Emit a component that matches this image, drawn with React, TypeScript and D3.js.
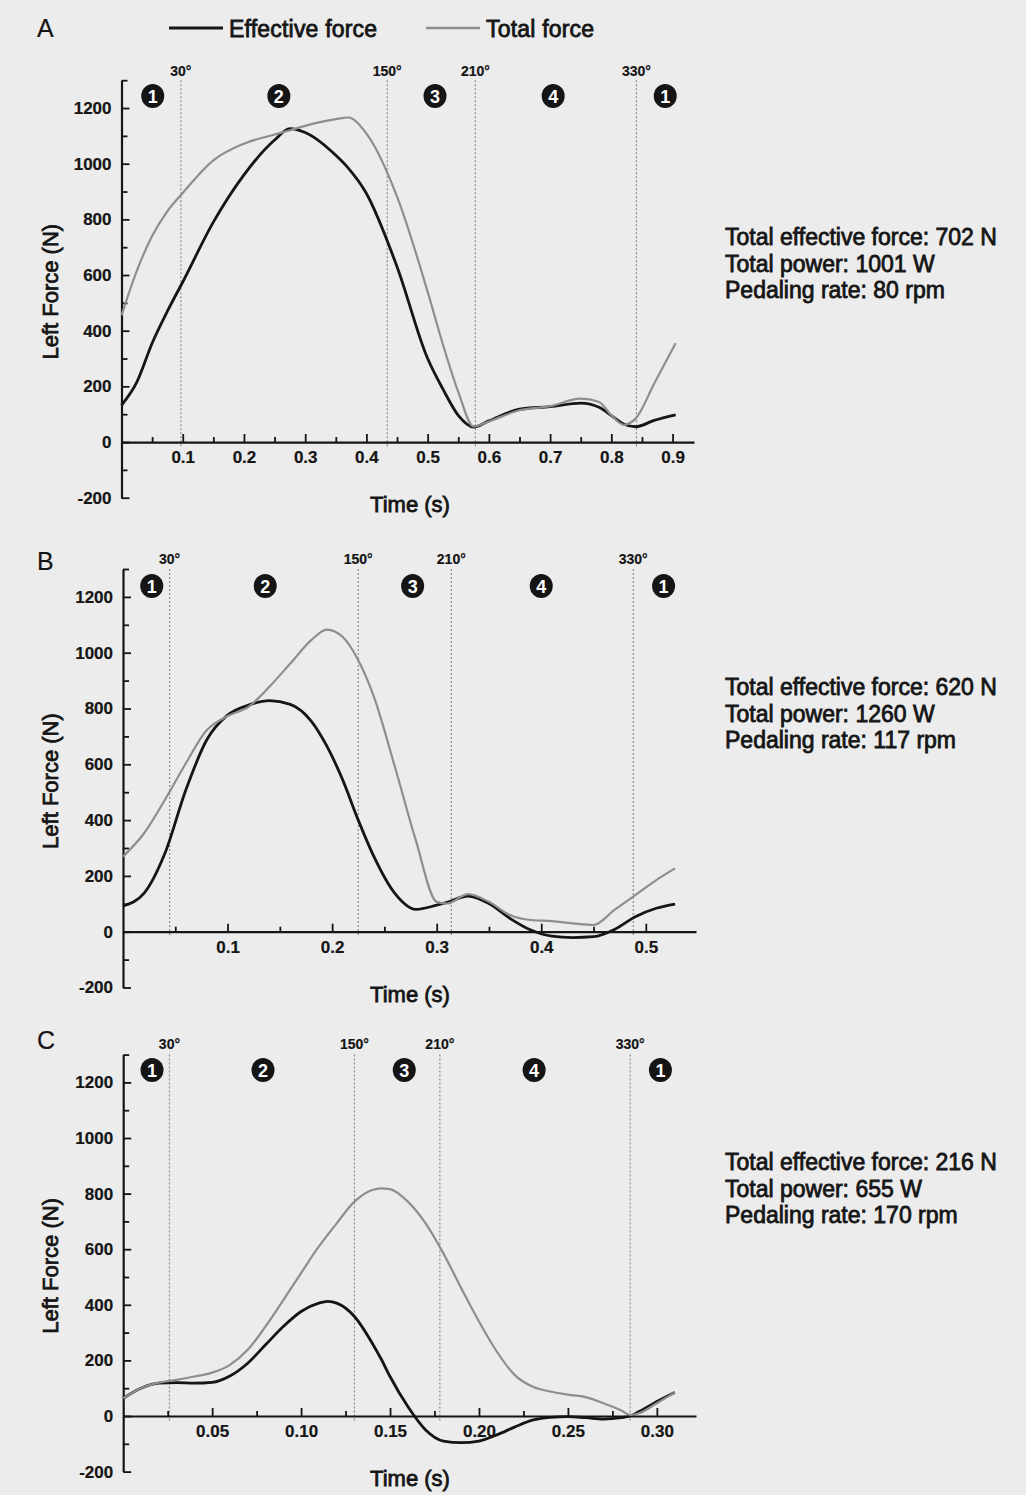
import * as d3 from "d3";
import { useEffect, useRef } from "react";

// ---- panel A (80 rpm) ----
const timeA = [0, 0.025, 0.05, 0.075, 0.1, 0.15, 0.2, 0.25, 0.275, 0.3, 0.35, 0.37, 0.4, 0.45, 0.5, 0.525, 0.55, 0.575, 0.6, 0.65, 0.7, 0.75, 0.78, 0.8, 0.82, 0.84, 0.87, 0.905];
const effectiveA = [132, 215, 355, 470, 575, 790, 960, 1085, 1126, 1112, 1030, 985, 893, 630, 300, 190, 96, 54, 76, 118, 127, 140, 125, 95, 65, 55, 78, 98];
const totalA = [455, 615, 740, 830, 895, 1012, 1072, 1105, 1120, 1136, 1160, 1166, 1108, 882, 540, 350, 180, 56, 74, 114, 129, 156, 144, 96, 62, 85, 210, 355];
const sectorTimesA = [0.097, 0.434, 0.578, 0.841];
const sectorNumberTimesA = [0.051, 0.257, 0.512, 0.705, 0.888];
const xMajorA = [0.1, 0.2, 0.3, 0.4, 0.5, 0.6, 0.7, 0.8, 0.9];
const xMinorA = [0.05, 0.15, 0.25, 0.35, 0.45, 0.55, 0.65, 0.75, 0.85];
const summaryA = ["Total effective force: 702 N", "Total power: 1001 W", "Pedaling rate: 80 rpm"];

// ---- panel B (117 rpm) ----
const timeB = [0, 0.02, 0.04, 0.06, 0.08, 0.1, 0.12, 0.14, 0.16, 0.18, 0.195, 0.21, 0.225, 0.24, 0.26, 0.28, 0.3, 0.31, 0.33, 0.35, 0.37, 0.39, 0.41, 0.43, 0.45, 0.47, 0.49, 0.51, 0.528];
const effectiveB = [92, 137, 280, 507, 687, 776, 812, 828, 815, 755, 665, 545, 400, 269, 137, 80, 95, 105, 128, 101, 48, 6, -16, -21, -18, 8, 54, 84, 99];
const totalB = [269, 352, 472, 603, 722, 773, 806, 878, 961, 1045, 1083, 1057, 973, 842, 591, 328, 107, 101, 135, 107, 60, 42, 38, 30, 24, 78, 131, 185, 227];
const sectorTimesB = [0.0446, 0.225, 0.314, 0.488];
const sectorNumberTimesB = [0.0275, 0.136, 0.277, 0.4, 0.517];
const xMajorB = [0.1, 0.2, 0.3, 0.4, 0.5];
const xMinorB = [0.05, 0.15, 0.25, 0.35, 0.45];
const summaryB = ["Total effective force: 620 N", "Total power: 1260 W", "Pedaling rate: 117 rpm"];

// ---- panel C (170 rpm) ----
const timeC = [0, 0.01, 0.02, 0.03, 0.04, 0.05, 0.06, 0.07, 0.08, 0.09, 0.1, 0.11, 0.115, 0.12, 0.13, 0.14, 0.145, 0.15, 0.16, 0.17, 0.18, 0.19, 0.2, 0.21, 0.22, 0.23, 0.24, 0.25, 0.26, 0.27, 0.28, 0.285, 0.29, 0.3, 0.31];
const effectiveC = [64, 100, 118, 120, 118, 121, 144, 190, 256, 322, 376, 406, 412, 406, 358, 262, 205, 142, 34, -50, -90, -96, -90, -68, -40, -15, -5, -2, -6, -11, -6, 0, 16, 52, 85];
const totalC = [64, 100, 120, 130, 142, 156, 184, 238, 322, 417, 514, 610, 652, 693, 771, 813, 819, 816, 771, 693, 585, 460, 340, 232, 148, 106, 88, 77, 68, 46, 20, 4, 10, 46, 85];
const sectorTimesC = [0.026, 0.13, 0.178, 0.285];
const sectorNumberTimesC = [0.0162, 0.0786, 0.158, 0.231, 0.302];
const xMajorC = [0.05, 0.1, 0.15, 0.2, 0.25, 0.3];
const xMinorC = [0.025, 0.075, 0.125, 0.175, 0.225, 0.275];
const summaryC = ["Total effective force: 216 N", "Total power: 655 W", "Pedaling rate: 170 rpm"];

// ---- shared ----
const sectorAngles = ["30°", "150°", "210°", "330°"];
const sectorNumbers = ["1", "2", "3", "4", "1"];
const yMajor = [-200, 0, 200, 400, 600, 800, 1000, 1200];
const yMinor = [-100, 100, 300, 500, 700, 900, 1100, 1300];
const legendLabels = ["Effective force", "Total force"];

const FONT = "'Liberation Sans', Arial, sans-serif";
const BLACK = "#151515";
const GREY = "#8e8e8e";

const panels = [
    { letter: "A", time: timeA, eff: effectiveA, tot: totalA, sectors: sectorTimesA, numbers: sectorNumberTimesA, xMajor: xMajorA, xMinor: xMinorA, summary: summaryA, fmt: ".1f",
      tMax: 0.935, x0: 121.5, x1: 694, yBottom: 497.7, yTop: 80.2, letterY: 37, angleY: 76, circleY: 96, summaryY: 245 },
    { letter: "B", time: timeB, eff: effectiveB, tot: totalB, sectors: sectorTimesB, numbers: sectorNumberTimesB, xMajor: xMajorB, xMinor: xMinorB, summary: summaryB, fmt: ".1f",
      tMax: 0.548, x0: 123, x1: 696, yBottom: 987.5, yTop: 569, letterY: 570, angleY: 564, circleY: 586, summaryY: 695 },
    { letter: "C", time: timeC, eff: effectiveC, tot: totalC, sectors: sectorTimesC, numbers: sectorNumberTimesC, xMajor: xMajorC, xMinor: xMinorC, summary: summaryC, fmt: ".2f",
      tMax: 0.322, x0: 123.2, x1: 696, yBottom: 1471.6, yTop: 1054.6, letterY: 1049, angleY: 1049, circleY: 1070, summaryY: 1170 },
];

export default function App() {
    const svgRef = useRef<SVGSVGElement>(null);

    useEffect(() => {
        if (svgRef.current) drawChart();
    }, []);

    const drawChart = () => {
        const svg = d3.select(svgRef.current);
        svg.selectAll("*").remove();
        svg.append("rect").attr("width", 1026).attr("height", 1495).attr("fill", "#ececec");

        // legend on the top row
        const legend = svg.append("g").attr("font-family", FONT);
        legend.append("line").attr("x1", 169).attr("x2", 223).attr("y1", 28).attr("y2", 28).attr("stroke", BLACK).attr("stroke-width", 3);
        legend.append("text").attr("x", 229).attr("y", 37).attr("font-size", 23).attr("letter-spacing", 0.2).text(legendLabels[0]);
        legend.append("line").attr("x1", 426).attr("x2", 480).attr("y1", 28).attr("y2", 28).attr("stroke", GREY).attr("stroke-width", 2.5);
        legend.append("text").attr("x", 486).attr("y", 37).attr("font-size", 23).attr("letter-spacing", 0.2).text(legendLabels[1]);

        panels.forEach((p) => drawPanel(svg, p));

        // scanned print looks heavy: thicken the regular text a little
        svg.selectAll("text").attr("fill", BLACK).attr("stroke", BLACK).attr("stroke-width", 0.8);
        svg.selectAll("text.letter").attr("stroke-width", 0.2);
        svg.selectAll("text.num, .tick text, text.angle").attr("stroke-width", 0.2);
        svg.selectAll("text.num").attr("fill", "#fff").attr("stroke", "none");
    };

    const drawPanel = (svg: any, p: any) => {
        const x = d3.scaleLinear().domain([0, p.tMax]).range([p.x0, p.x1]);
        const y = d3.scaleLinear().domain([-200, 1300]).range([p.yBottom, p.yTop]);
        const g = svg.append("g").attr("font-family", FONT);

        g.append("text").attr("x", 37).attr("y", p.letterY).attr("font-size", 25).attr("class", "letter").text(p.letter);

        // sector boundaries
        p.sectors.forEach((t: number, i: number) => {
            g.append("line")
                .attr("x1", x(t)).attr("x2", x(t))
                .attr("y1", y(1300)).attr("y2", y(0) + 5)
                .attr("stroke", "#8a8a8a").attr("stroke-width", 1.2).attr("stroke-dasharray", "2,2");
            g.append("text").attr("x", x(t)).attr("y", p.angleY).attr("class", "angle")
                .attr("text-anchor", "middle").attr("font-size", 14).attr("font-weight", "bold").text(sectorAngles[i]);
        });

        // sector numbers
        p.numbers.forEach((t: number, i: number) => {
            g.append("ellipse").attr("cx", x(t)).attr("cy", p.circleY).attr("rx", 11.5).attr("ry", 12).attr("fill", BLACK);
            g.append("text").attr("x", x(t)).attr("y", p.circleY + 6.5)
                .attr("text-anchor", "middle").attr("font-size", 18).attr("font-weight", "bold")
                .attr("class", "num").text(sectorNumbers[i]);
        });

        // axes
        const xAxis = g.append("g").attr("transform", `translate(0,${y(0)})`)
            .call(d3.axisBottom(x).tickValues(p.xMajor).tickSize(-8).tickSizeOuter(0).tickPadding(9).tickFormat(d3.format(p.fmt)));
        g.append("g").attr("transform", `translate(0,${y(0)})`)
            .call(d3.axisBottom(x).tickValues(p.xMinor).tickSize(-5).tickSizeOuter(0).tickFormat(() => ""))
            .call((a: any) => a.select(".domain").remove());
        const yAxis = g.append("g").attr("transform", `translate(${p.x0},0)`)
            .call(d3.axisLeft(y).tickValues(yMajor).tickSize(-8).tickSizeOuter(0).tickPadding(10).tickFormat((d: any) => String(d)));
        g.append("g").attr("transform", `translate(${p.x0},0)`)
            .call(d3.axisLeft(y).tickValues(yMinor).tickSize(-6).tickSizeOuter(0).tickFormat(() => ""))
            .call((a: any) => a.select(".domain").remove());
        g.selectAll(".domain").attr("stroke", BLACK).attr("stroke-width", 2.2);
        g.selectAll(".tick line").attr("stroke", BLACK).attr("stroke-width", 1.8);
        [xAxis, yAxis].forEach((a) => a.selectAll("text").attr("font-size", 17).attr("font-weight", "bold").attr("font-family", FONT));

        // axis titles
        g.append("text").attr("x", 410).attr("y", y(0) + 70)
            .attr("text-anchor", "middle").attr("font-size", 22).text("Time (s)");
        g.append("text").attr("transform", `translate(58,${y(540)}) rotate(-90)`)
            .attr("text-anchor", "middle").attr("font-size", 22).text("Left Force (N)");

        // curves
        const line = d3.line<number>()
            .x((_, i) => x(p.time[i]))
            .y((d) => y(d))
            .curve(d3.curveMonotoneX);
        g.append("path").attr("d", line(p.eff)).attr("fill", "none").attr("stroke", BLACK).attr("stroke-width", 2.8);
        g.append("path").attr("d", line(p.tot)).attr("fill", "none").attr("stroke", GREY).attr("stroke-width", 2.2);

        // summary text
        p.summary.forEach((s: string, i: number) => {
            g.append("text").attr("x", 725).attr("y", p.summaryY + i * 26.5)
                .attr("font-size", 23).text(s);
        });
    };

    return (
        <div style={{ position: "absolute", left: 0, top: 0 }}>
            <svg ref={svgRef} width={1026} height={1495} />
        </div>
    );
}
